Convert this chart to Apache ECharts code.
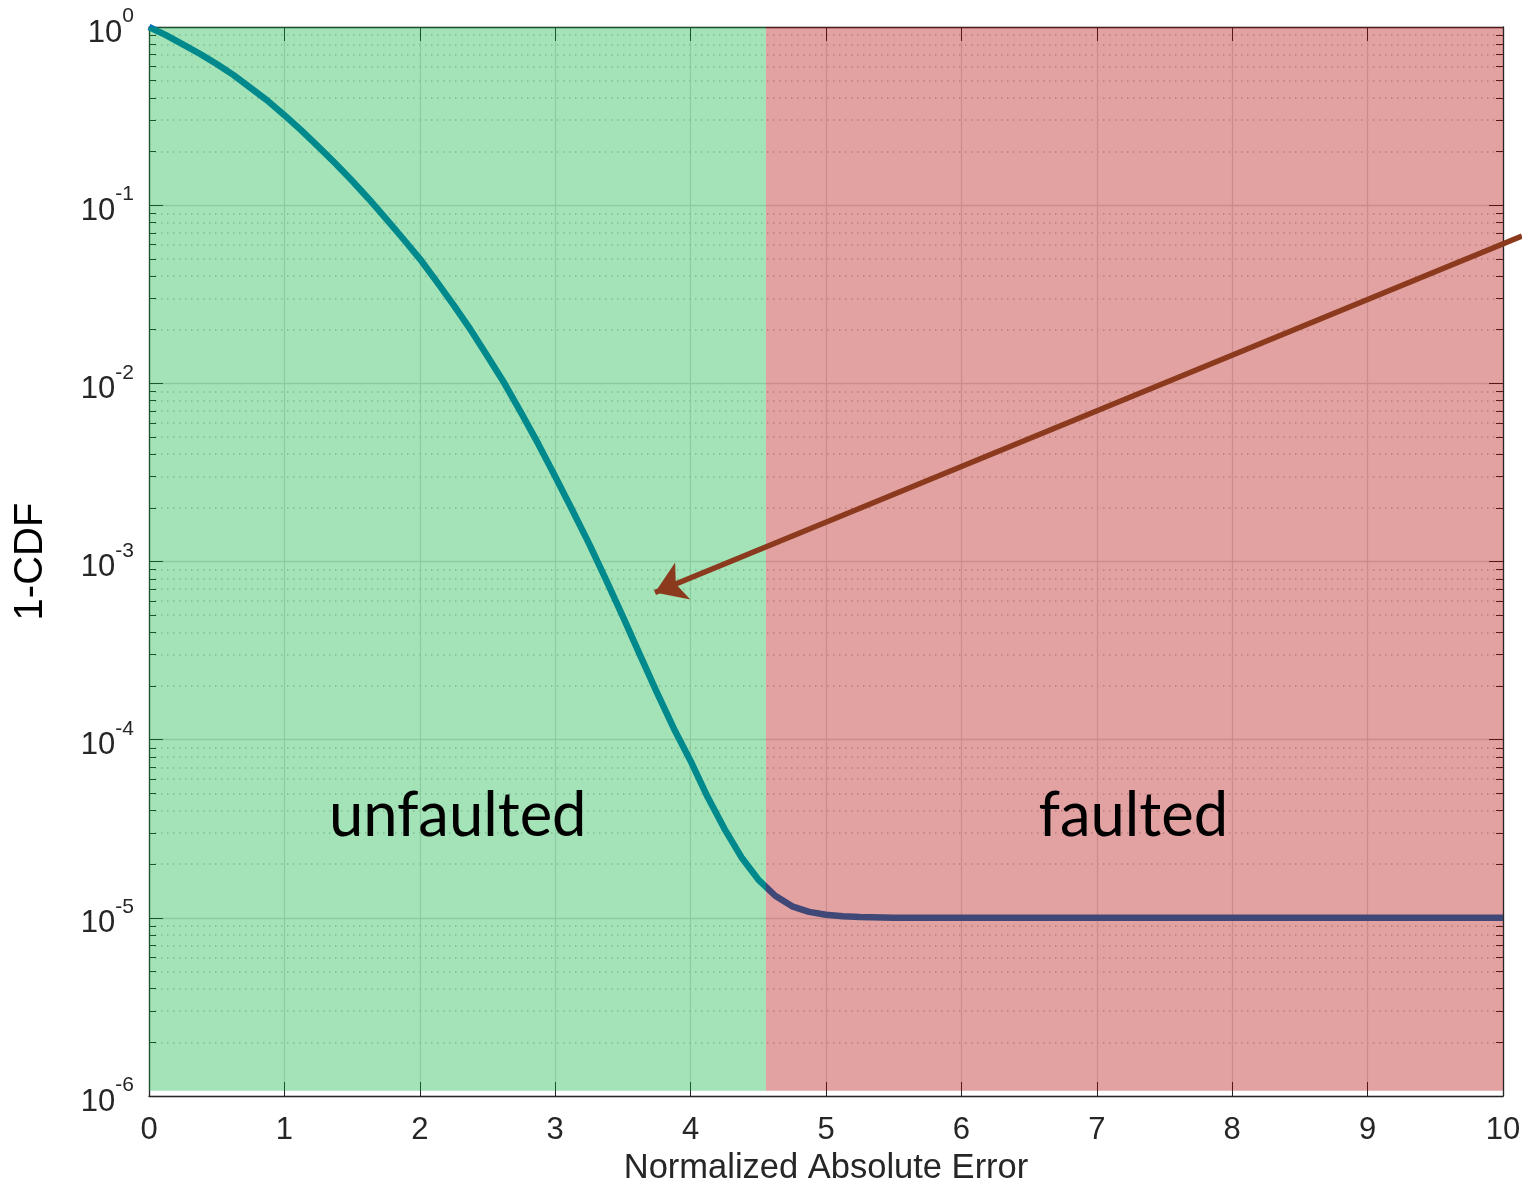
<!DOCTYPE html>
<html>
<head>
<meta charset="utf-8">
<title>1-CDF</title>
<script src="https://cdn.jsdelivr.net/npm/echarts@6/dist/echarts.min.js"></script>
<style>
html, body { margin: 0; padding: 0; background: #fff; }
#chart { width: 1522px; height: 1185px; }
</style>
</head>
<body>
<div id="chart"></div>
<script>
// values
const errX = [0, 0.125, 0.25, 0.375, 0.5, 0.625, 0.75, 0.875, 1, 1.125, 1.25, 1.375, 1.5, 1.625, 1.75, 1.875,
  2, 2.125, 2.25, 2.375, 2.5, 2.625, 2.75, 2.875, 3, 3.125, 3.25, 3.375, 3.5, 3.625, 3.75, 3.875,
  4, 4.125, 4.25, 4.375, 4.5, 4.625, 4.75, 4.875, 5, 5.125, 5.25, 5.5, 6, 7, 8, 9, 10]
const cdfY = [1.0, 0.90, 0.80, 0.708, 0.62, 0.537, 0.455, 0.386, 0.32, 0.263, 0.213, 0.172, 0.137, 0.108, 0.084, 0.065,
  0.050, 0.0372, 0.0275, 0.0200, 0.0142, 0.0100, 0.0068, 0.00457, 0.0030, 0.00195, 0.00126, 0.00079, 0.00049, 0.00030, 0.000185, 0.000116,
  0.000076, 0.0000478, 0.0000316, 0.0000219, 0.0000164, 0.0000133, 0.0000116, 0.0000108, 0.0000104, 0.0000102, 0.0000101, 0.00001, 0.00001, 0.00001, 0.00001, 0.00001, 0.00001]
const regionBreak = 4.556
const regionNames = ['unfaulted', 'faulted']
const regionLabelAt = [[2.28, 3.7e-5], [7.27, 3.7e-5]]
const arrowFrom = [10.14, 0.067]
const arrowTo = [3.737, 6.7e-4]
const yMin = 1e-6
const yMax = 1

const chart = echarts.init(document.getElementById('chart'))

const sci = v => {
  const p = Math.round(Math.log10(v))
  return '{b|10}{s|' + p + '}'
}
const tickColor = '#262626'
const labelFont = 'Liberation Sans'

chart.setOption({
  animation: false,
  backgroundColor: '#fff',
  grid: { left: 149, right: 19, top: 27, bottom: 89, outerBoundsMode: 'none', containLabel: false },
  xAxis: [
    {
      type: 'value', min: 0, max: 10, interval: 1,
      name: 'Normalized Absolute Error',
      nameLocation: 'middle', nameGap: 50,
      nameTextStyle: { fontFamily: labelFont, fontSize: 34.5, color: tickColor },
      axisLine: { show: true, onZero: false, lineStyle: { color: tickColor, width: 1.3 } },
      axisTick: { show: true, inside: true, length: 14, lineStyle: { color: tickColor } },
      axisLabel: { fontFamily: labelFont, fontSize: 31, color: tickColor, margin: 19 },
      splitLine: { show: true, lineStyle: { color: '#dcdcdc', width: 1.3 } }
    },
    {
      type: 'value', min: 0, max: 10, interval: 1, position: 'top',
      axisLine: { show: true, onZero: false, lineStyle: { color: tickColor, width: 1.3 } },
      axisTick: { show: true, inside: true, length: 14, lineStyle: { color: tickColor } },
      axisLabel: { show: false },
      splitLine: { show: false }
    }
  ],
  yAxis: [
    {
      type: 'log', logBase: 10, min: yMin, max: yMax,
      name: '1-CDF',
      nameLocation: 'middle', nameGap: 98, nameRotate: 90,
      nameTextStyle: { fontFamily: labelFont, fontSize: 40, color: '#000' },
      axisLine: { show: true, onZero: false, lineStyle: { color: tickColor, width: 1.3 } },
      axisTick: { show: true, inside: true, length: 14, lineStyle: { color: tickColor } },
      minorTick: { show: true, splitNumber: 9, length: 7, lineStyle: { color: tickColor } },
      axisLabel: {
        margin: 15,
        fontFamily: labelFont,
        fontSize: 31,
        color: tickColor,
        formatter: sci,
        rich: {
          b: { fontFamily: labelFont, fontSize: 31, color: tickColor, lineHeight: 30, padding: [12, 0, 0, 0] },
          s: { fontFamily: labelFont, fontSize: 21, color: tickColor, lineHeight: 21, padding: [0, 0, 21, 0] }
        }
      },
      splitLine: { show: true, lineStyle: { color: '#dcdcdc', width: 1.3 } },
      minorSplitLine: { show: true, lineStyle: { color: '#c4c4c4', width: 1.5, type: [1.5, 4.5] } }
    },
    {
      type: 'log', logBase: 10, min: yMin, max: yMax, position: 'right',
      axisLine: { show: true, onZero: false, lineStyle: { color: tickColor, width: 1.3 } },
      axisTick: { show: true, inside: true, length: 14, lineStyle: { color: tickColor } },
      minorTick: { show: true, splitNumber: 9, length: 7, lineStyle: { color: tickColor } },
      axisLabel: { show: false },
      splitLine: { show: false }
    }
  ],
  series: [
    {
      name: '1-CDF',
      type: 'line',
      z: 2,
      data: errX.map((x, i) => [x, cdfY[i]]),
      showSymbol: false,
      lineStyle: { color: '#0072bd', width: 6.5, join: 'round' }
    },
    {
      name: 'regions',
      type: 'line',
      z: 3,
      data: [],
      markArea: {
        silent: true,
        z: 3,
        data: [
          [{ coord: [0, 1.07e-6], itemStyle: { color: 'rgba(0,177,55,0.36)' } }, { coord: [regionBreak, yMax] }],
          [{ coord: [regionBreak, 1.07e-6], itemStyle: { color: 'rgba(175,0,0,0.365)' } }, { coord: [10, yMax] }]
        ]
      }
    },
    {
      name: 'arrow',
      type: 'lines',
      coordinateSystem: 'cartesian2d',
      z: 10,
      clip: false,
      silent: true,
      symbol: ['none', 'arrow'],
      symbolSize: [22, 30],
      lineStyle: { color: '#8b3a1e', width: 5.5, opacity: 1 },
      data: [{ coords: [arrowFrom, arrowTo] }]
    },
    {
      name: 'notes',
      type: 'line',
      z: 10,
      data: [],
      markPoint: {
        silent: true,
        z: 10,
        symbol: 'circle',
        symbolSize: 0,
        label: {
          show: true, position: 'inside', formatter: '{b}',
          fontFamily: 'Lato', fontSize: 61.5, color: '#000'
        },
        data: regionNames.map((n, i) => ({ name: n, coord: regionLabelAt[i] }))
      }
    }
  ]
})
</script>
</body>
</html>
